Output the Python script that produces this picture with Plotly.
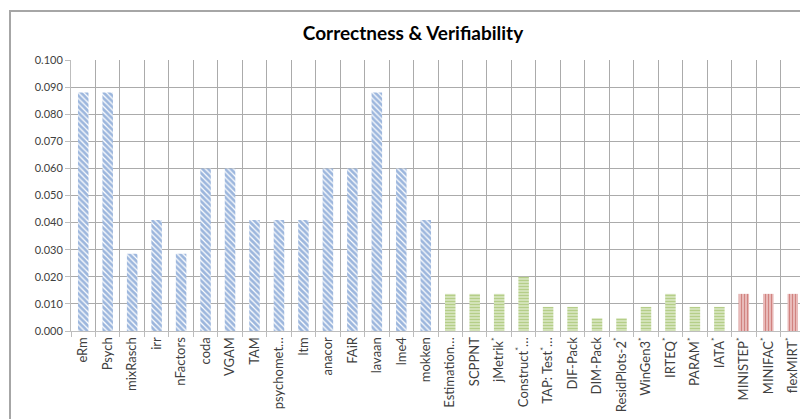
import plotly.graph_objects as go

blue_cats = ["eRm", "Psych", "mixRasch", "irr", "nFactors", "coda", "VGAM", "TAM",
             "psychomet…", "ltm", "anacor", "FAiR", "lavaan", "lme4", "mokken"]
blue_vals = [0.088, 0.088, 0.0285, 0.041, 0.0285, 0.060, 0.060, 0.041,
             0.041, 0.041, 0.060, 0.060, 0.088, 0.060, 0.041]

green_cats = ["Estimation…", "SCPPNT", "jMetrik<sup>*</sup>", "Construct<sup>*</sup>…",
              "TAP: Test<sup>*</sup>…", "DIF-Pack", "DIM-Pack", "ResidPlots-2<sup>*</sup>",
              "WinGen3<sup>*</sup>", "IRTEQ<sup>*</sup>", "PARAM<sup>*</sup>", "IATA<sup>*</sup>"]
green_vals = [0.0137, 0.0137, 0.0137, 0.0200, 0.0089, 0.0089, 0.0047, 0.0047,
              0.0089, 0.0137, 0.0089, 0.0089]

red_cats = ["MINISTEP<sup>*</sup>", "MINIFAC<sup>*</sup>", "flexMIRT<sup>*</sup>"]
red_vals = [0.0137, 0.0137, 0.0137]

y_ticks = [0.0, 0.01, 0.02, 0.03, 0.04, 0.05, 0.06, 0.07, 0.08, 0.09, 0.1]

# page body has an 8px margin, so compensate
OFF = 8
W, H = 808 - OFF, 419 - OFF
L, T = 71 - OFF, 60 - OFF
R = W - (805 - OFF)
B = H - (331 - OFF)
pw, ph = W - L - R, H - T - B

fig = go.Figure()
fig.add_trace(go.Bar(x=blue_cats, y=blue_vals, width=0.43,
                     marker=dict(color="#FFFFFF", line=dict(width=0),
                                 pattern=dict(shape="\\", fgcolor="#3A6EBB", bgcolor="#FFFFFF",
                                              size=4, solidity=0.7))))
fig.add_trace(go.Bar(x=green_cats, y=green_vals, width=0.43,
                     marker=dict(color="#FFFFFF", line=dict(width=0),
                                 pattern=dict(shape="-", fgcolor="#8DB34A", bgcolor="#DCE8C6",
                                              size=3, solidity=0.5))))
fig.add_trace(go.Bar(x=red_cats, y=red_vals, width=0.43,
                     marker=dict(color="#FFFFFF", line=dict(width=0),
                                 pattern=dict(shape="|", fgcolor="#B84542", bgcolor="#EBC0BF",
                                              size=3, solidity=0.4))))

fig.update_layout(
    width=W, height=H,
    margin=dict(l=L, r=R, t=T, b=B),
    paper_bgcolor="white", plot_bgcolor="white",
    barmode="overlay", showlegend=False,
    font=dict(family="Lato, Calibri, sans-serif", color="#404040"),
    title=dict(text="<b>Correctness & Verifiability</b>", x=(413 - OFF) / W, xanchor="center",
               y=1 - (33 - OFF) / H, yanchor="middle", yref="container",
               font=dict(size=19, color="#000000", family="Lato, Calibri, sans-serif")),
    xaxis=dict(categoryorder="array", categoryarray=blue_cats + green_cats + red_cats,
               tickangle=-90, tickson="boundaries", showgrid=True, gridcolor="#ABABAB",
               gridwidth=1, ticks="outside", ticklen=5, tickcolor="#BDBDBD",
               showline=True, linecolor="#BDBDBD", linewidth=1,
               tickfont=dict(size=13, color="#404040"), automargin=False),
    yaxis=dict(range=[0, 0.1], tickvals=y_ticks, tickformat=".3f",
               showgrid=True, gridcolor="#ABABAB", gridwidth=1,
               ticks="outside", ticklen=5, tickcolor="#BDBDBD",
               showline=True, linecolor="#BDBDBD", linewidth=1,
               zeroline=False, tickfont=dict(size=11, color="#404040"), automargin=False),
)

# chart border (outer frame)
fig.add_shape(type="rect", xref="paper", yref="paper",
              x0=(10 - OFF - L) / pw, x1=(W + 10 - L) / pw,
              y0=(H - B - (H + 10)) / ph, y1=(H - B - (11 - OFF)) / ph,
              line=dict(color="#A6A6A6", width=2), fillcolor="rgba(0,0,0,0)", layer="below")

fig.write_html("out.html")
